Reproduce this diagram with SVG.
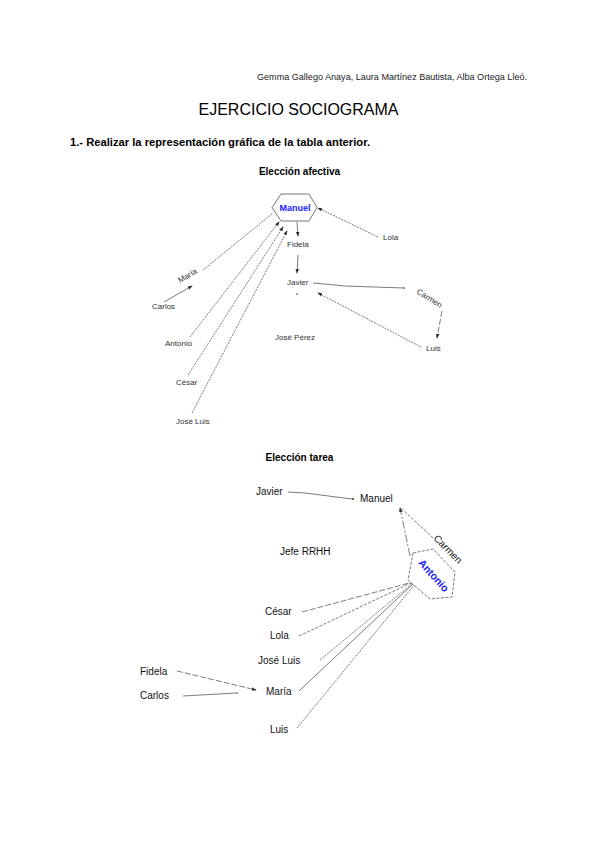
<svg xmlns="http://www.w3.org/2000/svg" width="600" height="848" viewBox="0 0 600 848">
<style>
text{font-family:"Liberation Sans",Arial,sans-serif;}
.t{font-size:8px;fill:#333;}
.b{font-size:10px;fill:#111;}
.h{font-weight:bold;fill:#000;}
.n{font-weight:bold;fill:#1a1aff;}
.hex{fill:#fff;stroke:#555;stroke-width:0.8;}
.c{fill:none;stroke:#444;stroke-width:0.7;}
.d1{stroke-dasharray:3 1.5;}
.d2{stroke-dasharray:6 2;}
.d3{stroke-dasharray:2 1;}
.d4{stroke-dasharray:8 2 2 2;}
</style>
<defs>
<marker id="ah" viewBox="0 0 6 6" refX="5" refY="3" markerWidth="5" markerHeight="5" orient="auto" markerUnits="userSpaceOnUse">
<path d="M0,0.8 L6,3 L0,5.2 Z" fill="#333"/>
</marker>
</defs>
<rect width="600" height="848" fill="#fff"/>
<text x="257" y="80" font-size="8.5" fill="#222" textLength="270" lengthAdjust="spacingAndGlyphs">Gemma Gallego Anaya, Laura Martínez Bautista, Alba Ortega Lleó.</text>
<text x="298.5" y="115" font-size="16" text-anchor="middle" fill="#000">EJERCICIO SOCIOGRAMA</text>
<text x="70" y="146" font-size="10.5" class="h" textLength="300" lengthAdjust="spacingAndGlyphs">1.- Realizar la representación gráfica de la tabla anterior.</text>
<text x="299.5" y="175" font-size="10" class="h" text-anchor="middle">Elección afectiva</text>
<text x="299.5" y="461" font-size="10" class="h" text-anchor="middle">Elección tarea</text>

<g id="connectors">
<line class="c" x1="297" y1="222" x2="298" y2="236" marker-end="url(#ah)"/>
<line class="c" x1="298" y1="255" x2="297" y2="273" marker-end="url(#ah)"/>
<line class="c d3" x1="378" y1="237" x2="318" y2="208" marker-end="url(#ah)"/>
<line class="c d3" x1="203" y1="270" x2="273" y2="213"/>
<line class="c" x1="164" y1="302" x2="192" y2="286" marker-end="url(#ah)"/>
<line class="c d3" x1="190" y1="337" x2="279" y2="222" marker-end="url(#ah)"/>
<line class="c d3" x1="188" y1="375" x2="283" y2="227" marker-end="url(#ah)"/>
<line class="c d3" x1="192" y1="413" x2="287" y2="231" marker-end="url(#ah)"/>
<path class="c" d="M313,283 L345,286 L404,288"/>
<circle cx="404" cy="288" r="0.8" fill="#333"/>
<line class="c d2" x1="442" y1="311" x2="437" y2="338" marker-end="url(#ah)"/>
<line class="c d3" x1="421" y1="347" x2="318" y2="293" marker-end="url(#ah)"/>
<circle cx="297" cy="294" r="0.8" fill="#333"/>
<path class="c" d="M288,492 L305,493 L352,499"/>
<circle cx="353" cy="499" r="1" fill="#333"/>
<line class="c d4" x1="410" y1="556" x2="400" y2="508" marker-end="url(#ah)"/>
<line class="c d1" x1="433" y1="538" x2="400" y2="507"/>
<line class="c d2" x1="302" y1="612" x2="413" y2="582"/>
<line class="c d1" x1="299" y1="636" x2="413" y2="582"/>
<line class="c d3" x1="320" y1="660" x2="413" y2="583"/>
<line class="c" x1="299" y1="691" x2="414" y2="583"/>
<line class="c d3" x1="297" y1="728" x2="415" y2="584"/>
<circle cx="414" cy="582" r="1.5" fill="#000"/>
<line class="c d2" x1="177" y1="671" x2="256" y2="690" marker-end="url(#ah)"/>
<line class="c" x1="183" y1="696" x2="236" y2="693"/>
<circle cx="237" cy="693" r="0.8" fill="#333"/>
</g>

<g id="manuel-a">
<polygon class="hex" points="272,207.5 281,194 309,194 317,207.5 309,221 281,221"/>
<text x="295" y="211" font-size="9" class="n" text-anchor="middle">Manuel</text>
</g>
<g id="fidela-a"><text x="287" y="247" class="t">Fidela</text></g>
<g id="lola-a"><text x="383" y="240" class="t">Lola</text></g>
<g id="maria-a"><text x="0" y="0" class="t" transform="translate(180,283) rotate(-30)">María</text></g>
<g id="carlos-a"><text x="152" y="309" class="t">Carlos</text></g>
<g id="javier-a"><text x="287" y="285" class="t">Javier</text></g>
<g id="carmen-a"><text x="0" y="0" class="t" transform="translate(416,293) rotate(32)">Carmen</text></g>
<g id="luis-a"><text x="426" y="351" class="t">Luis</text></g>
<g id="antonio-a"><text x="165" y="346" class="t">Antonio</text></g>
<g id="joseperez-a"><text x="275" y="340" class="t">José Pérez</text></g>
<g id="cesar-a"><text x="176" y="385" class="t">César</text></g>
<g id="joseluis-a"><text x="176" y="424" class="t">José Luis</text></g>

<g id="javier-b"><text x="256" y="495" class="b">Javier</text></g>
<g id="manuel-b"><text x="360" y="502" class="b">Manuel</text></g>
<g id="jefe-b"><text x="280" y="555" class="b">Jefe RRHH</text></g>
<g id="carmen-b"><text x="0" y="0" class="b" transform="translate(433,539) rotate(45)">Carmen</text></g>
<g id="antonio-b">
<polygon class="hex d1" points="413,553 433,549 455,572 452,597 430,599 408,580"/>
<text x="0" y="0" font-size="10.5" class="n" text-anchor="middle" transform="translate(431,578) rotate(48)">Antonio</text>
</g>
<g id="cesar-b"><text x="265" y="615" class="b">César</text></g>
<g id="lola-b"><text x="270" y="639" class="b">Lola</text></g>
<g id="joseluis-b"><text x="258" y="664" class="b">José Luis</text></g>
<g id="fidela-b"><text x="140" y="675" class="b">Fidela</text></g>
<g id="carlos-b"><text x="140" y="699" class="b">Carlos</text></g>
<g id="maria-b"><text x="266" y="695" class="b">María</text></g>
<g id="luis-b"><text x="270" y="733" class="b">Luis</text></g>
</svg>
